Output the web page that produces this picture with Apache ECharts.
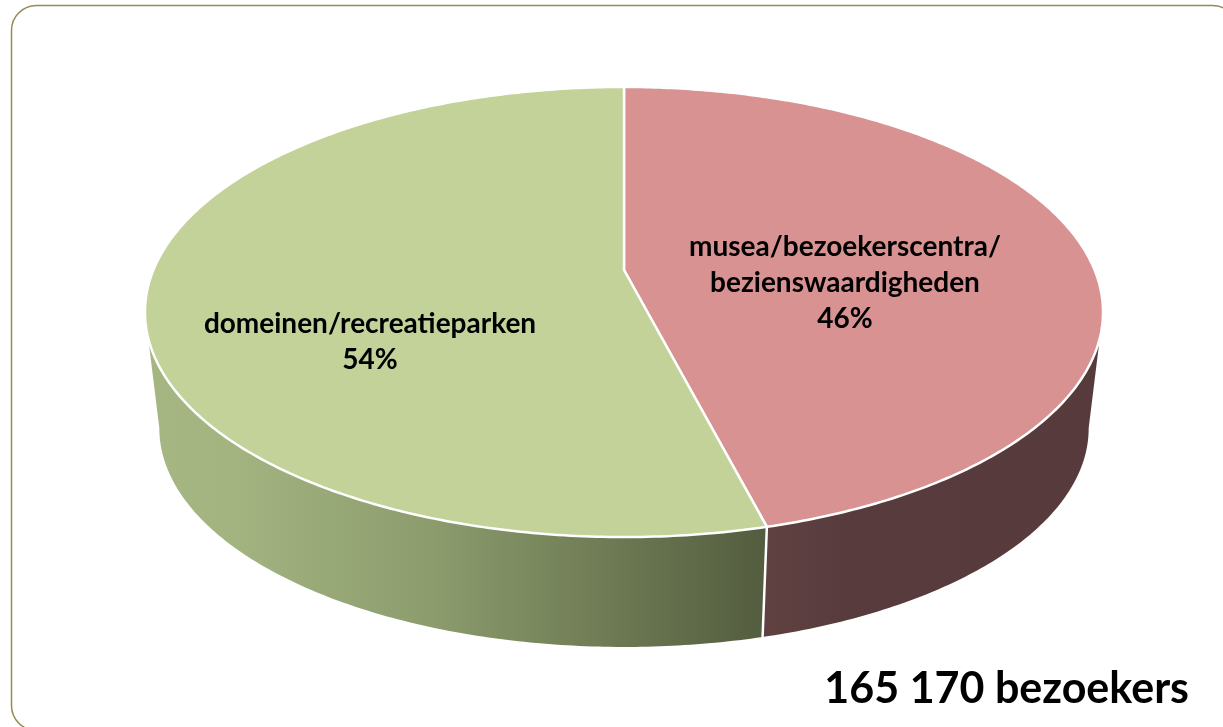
<!DOCTYPE html>
<html>
<head>
<meta charset="utf-8">
<title>bezoekers</title>
<script src="https://cdn.jsdelivr.net/npm/echarts@6/dist/echarts.min.js"></script>
<style>
    html, body { margin: 0; padding: 0; background: #fff; }
    #chart { width: 1223px; height: 727px; }
</style>
</head>
<body>
<div id="chart"></div>
<script>
const categories = ['musea/bezoekerscentra/\nbezienswaardigheden', 'domeinen/recreatieparken'];
const shares = [46, 54];
const totalLabel = '165 170 bezoekers';

const topColors = ['#d79291', '#c2d299'];
const sideStops = [
    [[0, '#604142'], [0.25, '#583c3d'], [1, '#573b3c']],
    [[0, '#a5b683'], [0.12, '#a3b481'], [0.45, '#8c9c6d'], [0.8, '#68744f'], [1, '#535d3f']]
];
const sideSpan = [[764, 1089], [160, 764]];
const labelPos = [[845, 283], [370, 342]];

// face of the disc seen in perspective: the centre of the circle sits above the middle of the ellipse
const tilt = 0.1867;
const topFace = { cx: 624, cy: 270, a: 470.6, b: 217.2 };
const bottomFace = { cx: 624, cy: 387.5, a: 456.5, b: 211 };
const frontStart = Math.acos(-tilt);
const frontEnd = 2 * Math.PI - frontStart;

function rimPoint(face, angle) {
    const u = Math.sin(angle);
    const v = -Math.cos(angle);
    const w = 1 - tilt * v;
    return [face.cx + face.a * u / w, face.cy + face.b * v / w];
}

function rimPoints(face, from, to) {
    const steps = Math.max(2, Math.ceil(Math.abs(to - from) * 90));
    const pts = [];
    for (let i = 0; i <= steps; i++) {
        pts.push(rimPoint(face, from + (to - from) * i / steps));
    }
    return pts;
}

const total = shares.reduce((a, b) => a + b, 0);

function renderSlice(params, api) {
    const i = params.dataIndex;
    let before = 0;
    for (let k = 0; k < i; k++) before += shares[k];
    const start = before / total * 2 * Math.PI;
    const end = (before + api.value(0)) / total * 2 * Math.PI;
    const children = [];

    const sideFrom = Math.max(start, frontStart);
    const sideTo = Math.min(end, frontEnd);
    if (sideTo > sideFrom) {
        children.push({
            type: 'polygon',
            shape: { points: rimPoints(topFace, sideFrom, sideTo).concat(rimPoints(bottomFace, sideTo, sideFrom)) },
            style: {
                fill: new echarts.graphic.LinearGradient(
                    sideSpan[i][0], 0, sideSpan[i][1], 0,
                    sideStops[i].map((s) => ({ offset: s[0], color: s[1] })),
                    true
                )
            }
        });
    }
    // white edge between the two side walls
    if (start > frontStart && start < frontEnd) {
        const p = rimPoint(topFace, start);
        const q = rimPoint(bottomFace, start);
        children.push({
            type: 'line',
            shape: { x1: p[0], y1: p[1], x2: q[0], y2: q[1] },
            style: { stroke: '#fff', lineWidth: 2.5 }
        });
    }

    children.push({
        type: 'polygon',
        shape: { points: [[topFace.cx, topFace.cy]].concat(rimPoints(topFace, start, end)) },
        style: { fill: topColors[i], stroke: '#fff', lineWidth: 2.5, lineJoin: 'round' }
    });
    children.push({
        type: 'text',
        x: labelPos[i][0],
        y: labelPos[i][1],
        style: {
            text: api.value(1) + '\n' + api.value(0) + '%',
            fill: '#000',
            font: 'bold 28px Lato',
            lineHeight: 36,
            align: 'center',
            verticalAlign: 'middle'
        }
    });
    return { type: 'group', children: children };
}

const chart = echarts.init(document.getElementById('chart'));
chart.setOption({
    animation: false,
    backgroundColor: '#fff',
    graphic: [{
        type: 'rect',
        silent: true,
        shape: { x: 11.5, y: 5.5, width: 1226, height: 725, r: 25 },
        style: { fill: 'none', stroke: '#948a54', lineWidth: 1.5 }
    }, {
        type: 'text',
        x: 1189,
        y: 689,
        style: {
            text: totalLabel,
            fill: '#000',
            font: 'bold 43px Lato',
            align: 'right',
            verticalAlign: 'middle'
        }
    }],
    series: [{
        type: 'custom',
        coordinateSystem: 'none',
        renderItem: renderSlice,
        dimensions: ['share', 'name'],
        data: shares.map((v, i) => [v, categories[i]])
    }]
});

window.addEventListener('resize', () => chart.resize());
</script>
</body>
</html>
